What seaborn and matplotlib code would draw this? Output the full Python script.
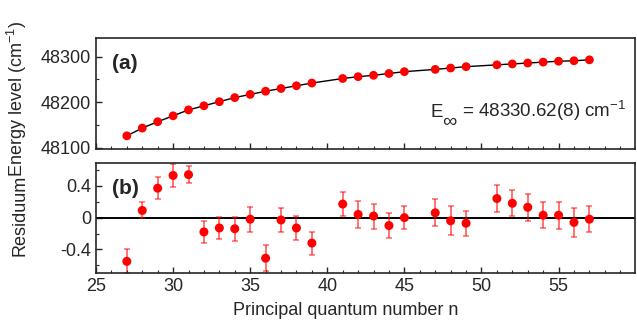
import numpy as np
import pandas as pd
import matplotlib
matplotlib.use('Agg')
import matplotlib.pyplot as plt
from matplotlib.ticker import MultipleLocator
import seaborn as sns

# Principal quantum numbers of the measured levels
n_vals = [27, 28, 29, 30, 31, 32, 33, 34, 35, 36, 37, 38, 39,
          41, 42, 43, 44, 45, 47, 48, 49, 51, 52, 53, 54, 55, 56, 57]

# Energy levels (cm-1)
energia = [48126, 48143, 48157, 48170, 48183, 48192, 48201, 48210, 48217,
           48224, 48230, 48236, 48242, 48252, 48256, 48259, 48263, 48267,
           48272, 48275, 48278, 48282, 48284, 48286, 48288, 48290, 48291,
           48293]

# Residuals and their uncertainties, panel (b)
residuo = [-0.55, 0.09, 0.37, 0.53, 0.54, -0.18, -0.13, -0.14, -0.02,
           -0.51, -0.03, -0.13, -0.32, 0.17, 0.04, 0.02, -0.10, 0.00,
           0.06, -0.04, -0.07, 0.24, 0.18, 0.13, 0.03, 0.03, -0.06, -0.02]
erro = [0.15, 0.10, 0.14, 0.14, 0.11, 0.14, 0.14, 0.15, 0.155, 0.16, 0.15,
        0.15, 0.145, 0.155, 0.17, 0.157, 0.155, 0.145, 0.17, 0.18, 0.155,
        0.17, 0.165, 0.17, 0.16, 0.17, 0.18, 0.16]

df = pd.DataFrame({'n': n_vals, 'E': energia, 'res': residuo, 'err': erro})

sns.set_style('ticks')
plt.rcParams['font.family'] = ['Liberation Sans', 'DejaVu Sans']
plt.rcParams['mathtext.fontset'] = 'custom'
plt.rcParams['mathtext.rm'] = 'Liberation Sans'
plt.rcParams['mathtext.it'] = 'Liberation Sans:italic'
plt.rcParams['xtick.direction'] = 'in'
plt.rcParams['ytick.direction'] = 'in'

fig = plt.figure(figsize=(6.37, 3.21), dpi=100)
ax1 = fig.add_axes([0.1507, 0.5358, 0.846, 0.3458])
ax2 = fig.add_axes([0.1507, 0.1486, 0.846, 0.3445])

# (a) níveis de energia
sns.lineplot(data=df, x='n', y='E', ax=ax1, color='black', lw=1.0)
sns.scatterplot(data=df, x='n', y='E', ax=ax1, color='red', s=40,
                edgecolor='none', zorder=3)
ax1.set_xlim(25, 59.95)
ax1.set_ylim(48097, 48341)
ax1.yaxis.set_major_locator(MultipleLocator(100))
ax1.yaxis.set_minor_locator(MultipleLocator(50))
ax1.set_xlabel('')
ax1.set_ylabel('Energy level (cm$^{-1}$)', fontsize=13)
ax1.yaxis.set_label_coords(-0.125, 0.45)
ax1.tick_params(labelbottom=False)
ax1.text(0.030, 0.72, '(a)', transform=ax1.transAxes, fontsize=15,
         fontweight='bold')
# E com índice infinito grande, como no original
ax1.text(0.620, 0.288, 'E', transform=ax1.transAxes, fontsize=13.5)
ax1.text(0.642, 0.25, '\u221e', transform=ax1.transAxes, fontsize=14.5,
         va='center')
ax1.text(0.680, 0.288, '= 48330.62(8) cm$^{-1}$', transform=ax1.transAxes,
         fontsize=13.5)

# (b) resíduos
ax2.axhline(0, color='black', lw=1.4, zorder=1)
ax2.errorbar(df['n'], df['res'], yerr=df['err'], fmt='none',
             ecolor=(1, 0, 0, 0.55), elinewidth=1.4, capsize=2.5,
             capthick=1.2, zorder=2)
sns.scatterplot(data=df, x='n', y='res', ax=ax2, color='red', s=42,
                edgecolor='none', zorder=3)
ax2.set_xlim(25, 59.95)
ax2.set_ylim(-0.7, 0.69)
ax2.yaxis.set_minor_locator(MultipleLocator(0.2))
ax2.set_yticks([-0.4, 0, 0.4])
ax2.set_yticklabels(['-0.4', '0', '0.4'])
ax2.set_ylabel('Residuum', fontsize=13)
ax2.yaxis.set_label_coords(-0.125, 0.52)
ax2.set_xlabel('Principal quantum number n', fontsize=13)
ax2.xaxis.set_label_coords(0.464, -0.26)
ax2.text(0.030, 0.72, '(b)', transform=ax2.transAxes, fontsize=15,
         fontweight='bold')

for ax in (ax1, ax2):
    ax.xaxis.set_major_locator(MultipleLocator(5))
    ax.xaxis.set_minor_locator(MultipleLocator(1))
    ax.tick_params(which='major', length=4, width=1, labelsize=13)
    ax.tick_params(which='minor', length=2.5, width=0.8)
    for sp in ax.spines.values():
        sp.set_linewidth(1.2)
        sp.set_visible(True)

fig.savefig('out.png', dpi=100)
